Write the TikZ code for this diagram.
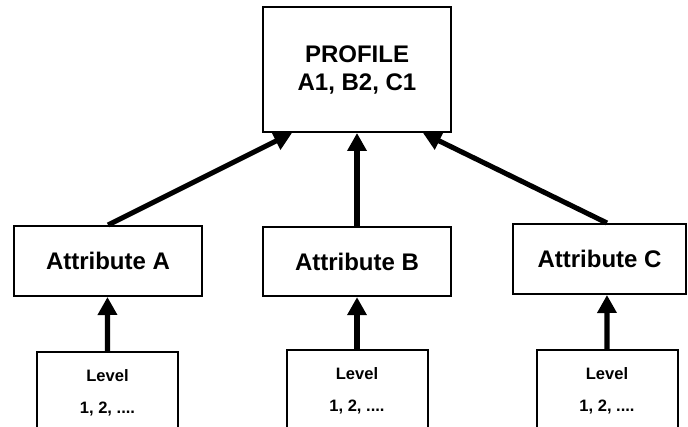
\documentclass[tikz,border=0pt]{standalone}
\usepackage{fontspec}
\setmainfont{Liberation Sans}
\usetikzlibrary{arrows.meta}
\begin{document}
\begin{tikzpicture}[x=0.75pt,y=-0.75pt,
  box/.style={draw=black,line width=1.5pt,rectangle,inner sep=0pt,align=center,font=\bfseries\fontsize{18}{21}\selectfont},
  lvlbox/.style={draw=black,line width=1.5pt,rectangle,inner sep=0pt,align=center,font=\bfseries\fontsize{12.4}{24}\selectfont,minimum width=105.75pt,minimum height=61.5pt},
  conn/.style={line width=3.8pt,-{Triangle[length=13.5pt,width=14pt]}}]
\useasboundingbox (0,0) rectangle (688,427);
\clip (0,0) rectangle (688,427);
\fill[white] (0,0) rectangle (688,427);
\node[box,minimum width=141pt,minimum height=93.75pt] (P) at (357,69.5) {PROFILE\\A1, B2, C1};
\node[box,minimum width=141pt,minimum height=52.5pt] (A) at (108,261) {Attribute A};
\node[box,minimum width=141pt,minimum height=52pt] (B) at (357,261.5) {Attribute B};
\node[box,minimum width=130pt,minimum height=52.5pt] (C) at (599.5,259) {Attribute C};
\node[lvlbox] (LA) at (107.5,393) {Level\\1, 2, ....};
\node[lvlbox] (LB) at (357,391) {Level\\1, 2, ....};
\node[lvlbox] (LC) at (607,391) {Level\\1, 2, ....};
\draw[conn] (A.north) -- ([xshift=22.5pt]P.south west);
\draw[conn] (B.north) -- (P.south);
\draw[conn] ([xshift=5.6pt]C.north) -- ([xshift=-21.75pt]P.south east);
\draw[conn] (LA.north) -- ([xshift=-0.4pt]A.south);
\draw[conn] (LB.north) -- (B.south);
\draw[conn] (LC.north) -- ([xshift=5.6pt]C.south);
\end{tikzpicture}
\end{document}
